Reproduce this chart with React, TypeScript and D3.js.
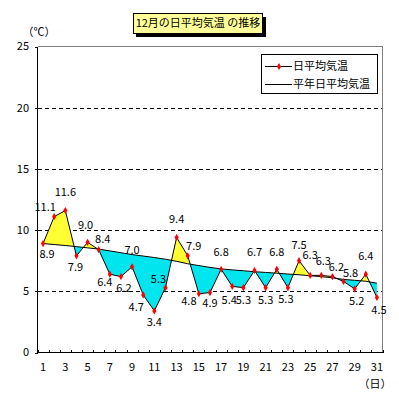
import * as d3 from 'd3';
import React from 'react';

// 12月の日平均気温と平年値
const days = d3.range(1, 32);
const dailyMean = [
  8.9, 11.1, 11.6, 7.9, 9.0, 8.4, 6.4, 6.2, 7.0, 4.7,
  3.4, 5.3, 9.4, 7.9, 4.8, 4.9, 6.8, 5.4, 5.3, 6.7,
  5.3, 6.8, 5.3, 7.5, 6.3, 6.3, 6.2, 5.8, 5.2, 6.4, 4.5,
];
const normalMean = [
  8.9, 8.82, 8.74, 8.65, 8.55, 8.45, 8.3, 8.15, 8.0, 7.88,
  7.76, 7.62, 7.45, 7.25, 7.1, 6.95, 6.83, 6.75, 6.68, 6.6,
  6.54, 6.48, 6.41, 6.35, 6.27, 6.2, 6.1, 5.97, 5.9, 5.82, 5.66,
];
const yTicks = [0, 5, 10, 15, 20, 25];
const xTickLabels = d3.range(1, 32, 2);
const title = '12月の日平均気温 の推移';
const legendLabels = ['日平均気温', '平年日平均気温'];

// label offsets from each point (dx, dy), as placed in the original
const labelOffsets: [number, number][] = [
  [4, 11], [-9, -9], [0, -18], [-1, 11], [-2, -17], [4, -11], [-5, 8], [3, 12],
  [0, -17], [-7, 12], [0, 11], [-7, -8], [0, -18], [6, -10], [-10, 7], [0, 11],
  [0, -17], [-3, 14], [0, 13], [0, -18], [0, 13], [0, -17], [-2, 12], [0, -16],
  [0, -20], [2, -14], [4, -9], [7, -8], [2, 12], [0, -18], [2, 13],
];

const W = 399;
const H = 400;
const font = '"Noto Sans CJK JP", "Noto Sans", sans-serif';

const App = () => {
  const x = d3.scaleLinear().domain([0.5, 31.5]).range([37.5, 382.5]);
  const y = d3.scaleLinear().domain([0, 25]).range([352.5, 46.5]);

  const rows = days.map((d, i) => ({ day: d, a: dailyMean[i], n: normalMean[i] }));

  const band = d3.area<any>()
    .x((d) => x(d.day))
    .y0((d) => y(d.n))
    .y1((d) => y(d.a))(rows) || '';

  const actualPath = d3.line<any>().x((d) => x(d.day)).y((d) => y(d.a))(rows) || '';
  const normalPath = d3.line<any>().x((d) => x(d.day)).y((d) => y(d.n))(rows) || '';

  const normalPts = rows.map((d) => `${x(d.day)},${y(d.n)}`).join(' L');
  const x0 = x(1), x1 = x(31);
  const aboveClip = `M${normalPts} L${x1},0 L${x0},0 Z`;
  const belowClip = `M${normalPts} L${x1},${H} L${x0},${H} Z`;

  const diamond = d3.symbol().type(d3.symbolDiamond).size(15)() || '';

  const left = x.range()[0];
  const right = x.range()[1];
  const top = y(25);
  const bottom = y(0);

  return (
    <svg width={W} height={H} style={{ position: 'absolute', left: 0, top: 0, background: '#fff' }}
      fontFamily={font} fontSize={11}>
      <defs>
        <clipPath id="above"><path d={aboveClip} /></clipPath>
        <clipPath id="below"><path d={belowClip} /></clipPath>
      </defs>

      {/* grid */}
      {yTicks.filter((t) => t > 0 && t < 25).map((t) => (
        <line key={t} x1={left} x2={right} y1={Math.round(y(t)) + 0.5} y2={Math.round(y(t)) + 0.5}
          stroke="#000" strokeDasharray="4,3" shapeRendering="crispEdges" />
      ))}

      {/* frame */}
      <line x1={left} x2={right} y1={top} y2={top} stroke="#808080" shapeRendering="crispEdges" />
      <line x1={right} x2={right} y1={top} y2={bottom} stroke="#808080" shapeRendering="crispEdges" />

      {/* fills */}
      <path d={band} fill="#ffff33" clipPath="url(#above)" />
      <path d={band} fill="#00e5ee" clipPath="url(#below)" />

      {/* axes */}
      <line x1={left} x2={left} y1={top} y2={bottom} stroke="#000" shapeRendering="crispEdges" />
      <line x1={left} x2={right} y1={bottom} y2={bottom} stroke="#000" shapeRendering="crispEdges" />
      {yTicks.map((t) => (
        <g key={t}>
          <line x1={left - 3} x2={left} y1={Math.round(y(t)) + 0.5} y2={Math.round(y(t)) + 0.5}
            stroke="#000" shapeRendering="crispEdges" />
          <text x={29} y={y(t)} dy="0.35em" textAnchor="end">{t}</text>
        </g>
      ))}
      {d3.range(0.5, 32, 1).map((b) => (
        <line key={b} x1={Math.round(x(b)) + 0.5} x2={Math.round(x(b)) + 0.5} y1={bottom - 3} y2={bottom}
          stroke="#000" shapeRendering="crispEdges" />
      ))}
      {xTickLabels.map((d) => (
        <text key={d} x={x(d)} y={367} dy="0.35em" textAnchor="middle">{d}</text>
      ))}
      <text x={39} y={32} dy="0.35em" textAnchor="middle">（℃）</text>
      <text x={375} y={384} dy="0.35em" textAnchor="middle">（日）</text>

      {/* lines */}
      <path d={normalPath} fill="none" stroke="#000" strokeWidth={1} />
      <path d={actualPath} fill="none" stroke="#000" strokeWidth={1} />
      {rows.map((d) => (
        <path key={d.day} d={diamond} transform={`translate(${x(d.day)},${y(d.a)})`} fill="#ff0000" />
      ))}
      {rows.map((d, i) => (
        <text key={d.day} x={x(d.day) + labelOffsets[i][0]} y={y(d.a) + labelOffsets[i][1]}
          dy="0.35em" textAnchor="middle">{d3.format('.1f')(d.a)}</text>
      ))}

      {/* legend */}
      <rect x={261.5} y={54.5} width={116} height={39} fill="#fff" stroke="#000" />
      <line x1={265} x2={292} y1={66.5} y2={66.5} stroke="#000" />
      <path d={diamond} transform="translate(279,66.5)" fill="#ff0000" />
      <text x={293} y={66.5} dy="0.35em">{legendLabels[0]}</text>
      <line x1={265} x2={292} y1={84.5} y2={84.5} stroke="#000" />
      <text x={293} y={84.5} dy="0.35em">{legendLabels[1]}</text>

      {/* title */}
      <rect x={136} y={17} width={130} height={20} fill="#000" />
      <rect x={133.5} y={13.5} width={129} height={20} fill="#ffff99" stroke="#000" />
      <text x={198} y={23.5} dy="0.35em" textAnchor="middle">{title}</text>
    </svg>
  );
};

export default App;
